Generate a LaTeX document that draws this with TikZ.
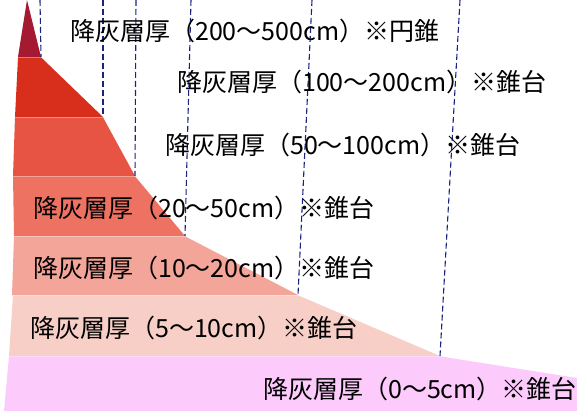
\documentclass[tikz,border=0pt]{standalone}
\usepackage{fontspec}
\newfontfamily\jpfont{Noto Sans CJK JP}
\usepackage{xcolor}
\usepackage{tikz}
\usetikzlibrary{positioning}

\definecolor{ashcone}{HTML}{A51A33}
\definecolor{ashtwo}{HTML}{D82E1C}
\definecolor{ashthree}{HTML}{E85444}
\definecolor{ashfour}{HTML}{EE7262}
\definecolor{ashfive}{HTML}{F4A59A}
\definecolor{ashsix}{HTML}{F7CFC7}
\definecolor{ashseven}{HTML}{FCCBFC}
\definecolor{sidenavy}{HTML}{1A237E}

\begin{document}
\begin{tikzpicture}[x=1pt, y=-1pt,
    band/.style={draw=none},
    sideline/.style={draw=sidenavy, line width=1.1pt, dash pattern=on 6pt off 3pt},
    lbl/.style={anchor=west, inner sep=0pt, text=black,
                font=\jpfont\fontsize{25}{25}\selectfont}
]
\useasboundingbox (0,0) rectangle (577,411);

% --- corner points of the layers ---
\coordinate (apex) at (27,0);
\coordinate (r1) at (41,57);
\coordinate (r2) at (103,117);
\coordinate (r3) at (135,176);
\coordinate (r4) at (185,236);
\coordinate (r5) at (298,295);
\coordinate (r6) at (440,356);
\coordinate (r7) at (577,378);

% --- upper ends of the dashed side lines ---
\coordinate (t1) at (40,0);
\coordinate (t2) at (103,0);
\coordinate (t3) at (136,0);
\coordinate (t4) at (191,0);
\coordinate (t5) at (312,0);
\coordinate (t6) at (460,0);

% --- ash layers, top to bottom ---
\fill[band, ashcone]  (apex) -- (r1) -- (18,57) -- cycle;
\fill[band, ashtwo]   (18,57.3) -- (41,57.3) -- (r2) -- (15,117) -- cycle;
\fill[band, ashthree] (15,117.3) -- (103,117.3) -- (r3) -- (13,176) -- cycle;
\fill[band, ashfour]  (13,176.3) -- (135,176.3) -- (r4) -- (14,236) -- cycle;
\fill[band, ashfive]  (14,236.3) -- (185,236.3) -- (r5) -- (12,295) -- cycle;
\fill[band, ashsix]   (13,295.3) -- (298,295.3) -- (r6) -- (9,356) -- cycle;
\fill[band, ashseven] (9,356.3) -- (440,356.3) -- (r7) -- (577,411) -- (4,411) -- cycle;

% --- dashed side lines ---
\draw[sideline] (t1) -- (r1);
\draw[sideline] (t2) -- (r2);
\draw[sideline] (t3) -- (r3);
\draw[sideline] (t4) -- (r4);
\draw[sideline] (t5) -- (r5);
\draw[sideline] (t6) -- (r6);

% --- layer labels ---
\node[lbl] (lab1) at (70,31)  {降灰層厚（200～500cm）※円錐};
\node[lbl] (lab2) at (177,82) {降灰層厚（100～200cm）※錐台};
\node[lbl] (lab3) at (165,145) {降灰層厚（50～100cm）※錐台};
\node[lbl] (lab4) at (33,208) {降灰層厚（20～50cm）※錐台};
\node[lbl] (lab5) at (33,268) {降灰層厚（10～20cm）※錐台};
\node[lbl] (lab6) at (30,328) {降灰層厚（5～10cm）※錐台};
\node[lbl] (lab7) at (263,389) {降灰層厚（0～5cm）※錐台};

\end{tikzpicture}
\end{document}
